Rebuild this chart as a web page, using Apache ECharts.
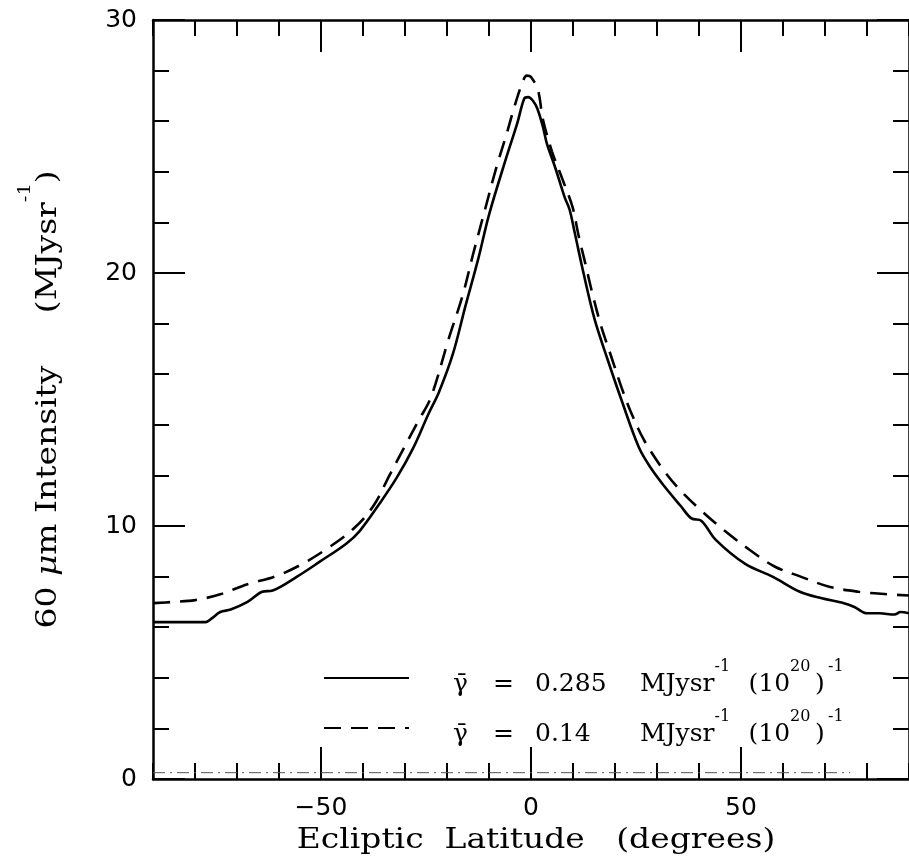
<!DOCTYPE html>
<html>
<head>
<meta charset="utf-8">
<script src="https://cdn.jsdelivr.net/npm/echarts@6/dist/echarts.min.js"></script>
<style>
  html, body { margin: 0; padding: 0; background: #ffffff; }
  #chart { width: 909px; height: 864px; }
</style>
</head>
<body>
<div id="chart"></div>
<script>
// Ecliptic latitude (degrees) and 60 micron intensity (MJy/sr) for each model
const solidLat = [-90, -84, -77.5, -76, -74, -71.5, -67.5, -64, -61.5, -55.7,
  -50.2, -44, -40.8, -36, -32, -28, -24.5, -21.9, -18.6, -15.6,
  -12.5, -10, -6, -3.3, -1.6, -0.7, 0.5, 1.5, 2.8,
  3.8, 5.7, 8, 9.2, 10.4, 12.5, 15.1, 18.2, 21.5, 25.7,
  28.5, 31.6, 35.6, 38.2, 40.6, 44, 51, 57.5, 64, 69,
  74.5, 77, 80, 83, 86.5, 88, 90];
const solidVal = [6.2, 6.2, 6.2, 6.35, 6.6, 6.7, 7.0, 7.4, 7.45, 8.0,
  8.6, 9.3, 9.8, 10.9, 11.9, 13.1, 14.4, 15.3, 16.8, 18.7,
  20.6, 22.3, 24.5, 25.9, 26.9, 26.95, 26.8, 26.5, 25.8,
  25.1, 24.2, 23.0, 22.5, 21.6, 20.0, 18.2, 16.6, 15.0, 13.1,
  12.3, 11.6, 10.8, 10.3, 10.2, 9.45, 8.5, 8.0, 7.4, 7.15,
  6.95, 6.8, 6.55, 6.55, 6.5, 6.6, 6.55];

const dashLat = [-90, -85, -80, -74, -67.5, -61, -55, -48.6, -42.2, -37.5,
  -33.7, -30.2, -27, -23.8, -19.6, -16.3, -13.7, -10.8, -8.2, -5.8,
  -3.9, -2.1, -1, 0, 1.7, 2.8, 5, 7.5, 9.9, 11.3,
  12.9, 14.6, 16.7, 19.1, 21.5, 23.8, 26.9, 31.6, 35.6, 40.6,
  46.2, 52.1, 58, 64.2, 71, 78, 85, 90];
const dashVal = [6.95, 7.0, 7.07, 7.3, 7.7, 8.0, 8.45, 9.1, 9.9, 10.8,
  12.0, 13.1, 14.1, 15.1, 17.4, 19.1, 20.8, 22.6, 24.2, 25.5,
  26.6, 27.5, 27.8, 27.75, 27.2, 26.1, 24.8, 23.7, 22.6, 21.5,
  20.4, 19.2, 17.9, 16.7, 15.5, 14.5, 13.4, 12.2, 11.4, 10.6,
  9.8, 9.05, 8.4, 8.0, 7.6, 7.4, 7.3, 7.25];

// faint reference level just above zero
const baseLat = [-90, 76];
const baseVal = [0.25, 0.25];

// emissivity values shown in the key
const gammaValues = ['0.285', '0.14'];

// tick labels
const xTickLabels = [-50, 0, 50];
const yTickLabels = [0, 10, 20, 30];

const zip = (xs, ys) => xs.map((x, i) => [x, ys[i]]);

const serif = 'DejaVu Serif';
const sans = 'DejaVu Sans';
const ink = '#000000';

const xRange = { min: -90, max: 90 };
const yRange = { min: 0, max: 30 };

function minorX(position) {
  return {
    type: 'value', position, ...xRange, interval: 10,
    axisLine: { show: true, onZero: false, lineStyle: { color: ink, width: 2.5 } },
    axisTick: { show: true, inside: true, length: 16, lineStyle: { color: ink, width: 2 } },
    axisLabel: { show: false }, splitLine: { show: false }
  };
}
function majorX(position, withLabels) {
  return {
    type: 'value', position, ...xRange,
    axisLine: { show: false, onZero: false },
    axisTick: { show: true, inside: true, length: 32, customValues: xTickLabels,
      lineStyle: { color: ink, width: 2 } },
    axisLabel: withLabels ? {
      show: true, customValues: xTickLabels, margin: 17,
      fontFamily: sans, fontSize: 25, color: ink,
      formatter: v => (v < 0 ? '\u2212' + Math.abs(v) : String(v))
    } : { show: false },
    splitLine: { show: false }
  };
}
function minorY(position) {
  return {
    type: 'value', position, ...yRange, interval: 2,
    axisLine: { show: true, onZero: false, lineStyle: { color: ink, width: 2.5 } },
    axisTick: { show: true, inside: true, length: 16, lineStyle: { color: ink, width: 2 } },
    axisLabel: { show: false }, splitLine: { show: false }
  };
}
function majorY(position, withLabels) {
  return {
    type: 'value', position, ...yRange, interval: 10,
    axisLine: { show: false, onZero: false },
    axisTick: { show: true, inside: true, length: 32, lineStyle: { color: ink, width: 2 } },
    axisLabel: withLabels ? {
      show: true, margin: 16, fontFamily: sans, fontSize: 25, color: ink,
      customValues: yTickLabels
    } : { show: false },
    splitLine: { show: false }
  };
}

const chart = echarts.init(document.getElementById('chart'), null, { renderer: 'canvas' });

const base = { fontFamily: serif, color: ink };
const mainTok = { ...base, fontSize: 25, lineHeight: 26, verticalAlign: 'bottom' };
const supTok = { ...base, fontSize: 16, lineHeight: 16, verticalAlign: 'top' };
const legendRich = {
  s: { ...base, width: 39, lineHeight: 38, fontSize: 25 },
  g: { ...mainTok, width: 40 },
  e: { ...mainTok, width: 42 },
  n: { ...mainTok, width: 105 },
  u: { ...mainTok },
  p: { ...supTok, width: 34 },
  q: { ...mainTok },
  r: { ...supTok, width: 25 },
  c: { ...mainTok, width: 13 },
  t: { ...supTok }
};

const titleRich = {
  sp: { lineHeight: 44, fontSize: 27, fontFamily: serif, color: ink, width: 1 },
  m: { fontSize: 27, lineHeight: 30, verticalAlign: 'bottom', fontFamily: serif, color: ink },
  mu: { fontSize: 27, lineHeight: 30, verticalAlign: 'bottom', fontFamily: serif, fontStyle: 'italic', color: ink },
  p: { fontSize: 16, lineHeight: 16, verticalAlign: 'top', fontFamily: serif, color: ink }
};

const option = {
  backgroundColor: '#ffffff',
  animation: false,
  grid: { left: 153, top: 20, width: 762, height: 759, containLabel: false },
  xAxis: [minorX('bottom'), majorX('bottom', true), minorX('top'), majorX('top', false)],
  yAxis: [minorY('left'), majorY('left', true), minorY('right'), majorY('right', false)],
  legend: {
    data: gammaValues,
    orient: 'vertical',
    left: 323,
    top: 659,
    padding: 0,
    itemWidth: 85,
    itemHeight: 14,
    itemGap: 12,
    selectedMode: false,
    itemStyle: { color: 'rgba(0,0,0,0)', borderWidth: 0, opacity: 0 },
    textStyle: { color: ink, fontFamily: serif, fontSize: 25, rich: legendRich },
    formatter: name => '{s| }{g|\u03b3\u0304}{e|=}{n|' + name + '}{u|MJysr}{p|-1}{q|(10}{r|20}{c|)}{t|-1}'
  },
  series: [
    {
      name: gammaValues[0], type: 'line', xAxisIndex: 0, yAxisIndex: 0,
      data: zip(solidLat, solidVal), symbol: 'none', showSymbol: false,
      smooth: 0.35,
      lineStyle: { color: ink, width: 2.6, type: 'solid' }, z: 3
    },
    {
      name: gammaValues[1], type: 'line', xAxisIndex: 0, yAxisIndex: 0,
      data: zip(dashLat, dashVal), symbol: 'none', showSymbol: false,
      smooth: 0.35,
      lineStyle: { color: ink, width: 2.6, type: [17, 10] }, z: 3
    },
    {
      name: 'base', type: 'line', xAxisIndex: 0, yAxisIndex: 0,
      data: zip(baseLat, baseVal), symbol: 'none', showSymbol: false,
      lineStyle: { color: '#555555', width: 1, type: [12, 5, 2, 5] }, z: 2
    }
  ],
  graphic: [
    {
      type: 'text', x: 536, y: 841, scaleX: 1.22, silent: true,
      style: {
        text: 'Ecliptic  Latitude   (degrees)',
        font: '27px "DejaVu Serif"', fill: ink,
        align: 'center', verticalAlign: 'middle',
        textAlign: 'center', textVerticalAlign: 'middle'
      }
    },
    {
      type: 'text', x: 40, y: 400, rotation: Math.PI / 2, scaleX: 1.22, silent: true,
      style: {
        text: '{sp| }{m|60 }{mu|\u03bc}{m|m Intensity     (MJysr}{p|-1}{m|)}',
        rich: titleRich, fill: ink, font: '27px "DejaVu Serif"',
        align: 'center', verticalAlign: 'middle',
        textAlign: 'center', textVerticalAlign: 'middle'
      }
    }
  ]
};

chart.setOption(option);
</script>
</body>
</html>
